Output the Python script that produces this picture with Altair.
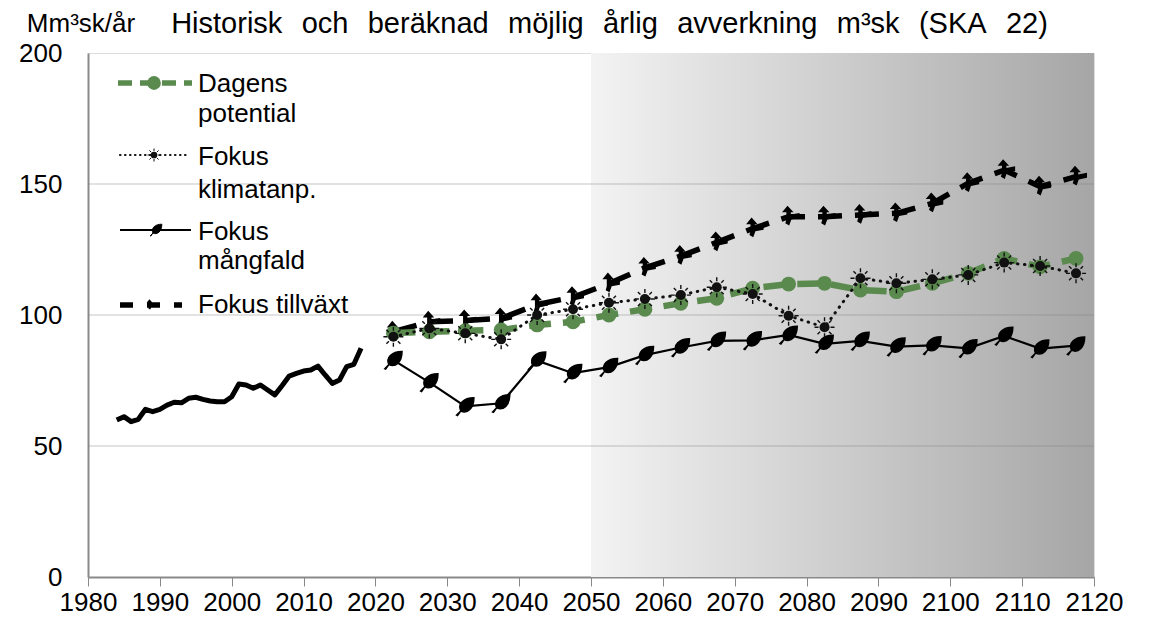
import altair as alt
import pandas as pd

# ---------------- data ----------------
hist_years = list(range(1984, 2019))
hist_vals = [59.9, 61.2, 59.3, 60.2, 64.0, 63.1, 64.0, 65.6, 66.7, 66.5,
             68.2, 68.6, 67.8, 67.2, 66.9, 66.9, 68.8, 73.7, 73.3, 72.0,
             73.3, 71.4, 69.5, 73.0, 76.7, 77.7, 78.6, 79.0, 80.5, 77.1,
             73.9, 75.2, 80.3, 81.2, 87.3]

proj_years = [2022.5, 2027.5, 2032.5, 2037.5, 2042.5, 2047.5, 2052.5, 2057.5,
              2062.5, 2067.5, 2072.5, 2077.5, 2082.5, 2087.5, 2092.5, 2097.5,
              2102.5, 2107.5, 2112.5, 2117.5]
dagens = [93.1, 93.6, 94.0, 94.3, 96.2, 97.4, 100.0, 102.2, 104.5, 106.4,
          110.2, 111.8, 112.1, 109.5, 108.9, 112.1, 115.9, 121.6, 118.4, 121.6]
klimat = [91.7, 94.9, 93.0, 90.7, 100.0, 102.2, 104.7, 106.1, 107.6, 110.6,
          108.0, 99.7, 95.3, 114.0, 112.1, 113.6, 115.3, 120.0, 118.7, 115.9]
mangfald = [82.8, 74.3, 65.1, 66.3, 82.6, 77.8, 80.1, 84.7, 87.6, 90.1,
            90.3, 92.4, 89.0, 90.1, 87.9, 88.4, 87.3, 92.0, 87.2, 88.3]
tillvaxt = [93.6, 97.4, 97.9, 98.7, 104.0, 106.8, 112.0, 118.0, 122.5, 127.7,
            133.0, 137.5, 137.5, 138.2, 138.8, 142.6, 150.3, 155.3, 149.0, 152.8]

x_ticks = list(range(1980, 2121, 10))
y_ticks = [0, 50, 100, 150, 200]
grid_vals = [50, 100, 150]
shade_start, shade_end = 2050, 2120

title_words = ["Historisk", "och", "beräknad", "möjlig", "årlig", "avverkning", "m³sk", "(SKA", "22)"]
ytitle_text = "Mm³sk/år"
legend_lines = [["Dagens", "potential"], ["Fokus", "klimatanp."], ["Fokus", "mångfald"], ["Fokus tillväxt"]]

# ---------------- style ----------------
F = "Liberation Sans"
FS = 26
GREEN = "#5a8a4e"
GRAY = "#898989"
W, H = 1006, 524

LEAF = ("M-0.95,0.95L-0.5,0.5C-0.85,-0.25 -0.2,-0.95 0.95,-0.95"
        "C0.95,0.2 0.25,0.85 -0.5,0.5L-0.85,1Z")
RAYS = ("M0,-1L0,-0.6M0,1L0,0.6M-1,0L-0.6,0M1,0L0.6,0"
        "M-0.7,-0.7L-0.45,-0.45M0.7,0.7L0.45,0.45M-0.7,0.7L-0.45,0.45M0.7,-0.7L0.45,-0.45")
TREE = ("M-0.1,-1L0.45,-0.4L0.2,-0.4L0.2,-0.2L1,-0.35L1,0.1L0.25,0.25"
        "L0.05,0.8L-0.3,0.6L-0.2,0.25L-0.2,-0.4L-0.6,-0.4Z")

hist_df = pd.DataFrame({"year": hist_years, "value": hist_vals})
dag_df = pd.DataFrame({"year": proj_years, "value": dagens})
kli_df = pd.DataFrame({"year": proj_years, "value": klimat})
man_df = pd.DataFrame({"year": proj_years, "value": mangfald})
til_df = pd.DataFrame({"year": proj_years, "value": tillvaxt})
grid_df = pd.DataFrame({"value": grid_vals})
one = pd.DataFrame({"a": [0]})

xs = alt.Scale(domain=[1980, 2120], nice=False, zero=False)
ys = alt.Scale(domain=[0, 200], nice=False)
xaxis = alt.Axis(values=x_ticks, format="d", labelFontSize=FS, labelFont=F, labelColor="#000",
                 tickColor=GRAY, tickSize=9, tickWidth=1, domainColor=GRAY, domainWidth=2,
                 grid=False, labelPadding=24, labelBaseline="alphabetic",
                 labelFlush=False, labelOverlap=False, title=None)
yaxis = alt.Axis(values=y_ticks, labelFontSize=FS, labelFont=F, labelColor="#000",
                 ticks=False, tickSize=0, domainColor=GRAY, domainWidth=2, grid=False,
                 labelPadding=26, title=None)
X = alt.X("year:Q", scale=xs, axis=xaxis)
Y = alt.Y("value:Q", scale=ys, axis=yaxis)

# gradient background
shade = alt.Chart(one).mark_rect(
    fill={"gradient": "linear",
          "stops": [{"offset": 0, "color": "#f3f3f3"}, {"offset": 1, "color": "#a6a6a6"}],
          "x1": 0, "x2": 1, "y1": 0, "y2": 0}
).encode(x=alt.datum(shade_start, scale=xs, axis=xaxis, type="quantitative"),
         x2=alt.datum(shade_end),
         y=alt.datum(0, scale=ys, axis=yaxis, type="quantitative"),
         y2=alt.datum(200))

grid = alt.Chart(grid_df).mark_rule(color="#7f7f7f", opacity=0.3, strokeWidth=1.5).encode(y=Y)

hist = alt.Chart(hist_df).mark_line(color="#000", strokeWidth=5, strokeJoin="round").encode(x=X, y=Y)

man_line = alt.Chart(man_df).mark_line(color="#000", strokeWidth=2.2).encode(x=X, y=Y)
man_pts = alt.Chart(man_df).mark_point(shape=LEAF, filled=True, color="#000", stroke="#000",
                                       strokeWidth=1.5, size=330, opacity=1).encode(x=X, y=Y)

dag_line = alt.Chart(dag_df).mark_line(color=GREEN, strokeWidth=6.5, strokeDash=[22, 12]).encode(x=X, y=Y)
dag_pts = alt.Chart(dag_df).mark_point(shape="circle", filled=True, color=GREEN, size=220, opacity=1).encode(x=X, y=Y)

kli_line = alt.Chart(kli_df).mark_line(color="#111", strokeWidth=3, strokeDash=[0.5, 6.5], strokeCap="round").encode(x=X, y=Y)
kli_pts = alt.Chart(kli_df).mark_point(shape="circle", filled=True, color="#111", size=100, opacity=1).encode(x=X, y=Y)
kli_rays = alt.Chart(kli_df).mark_point(shape=RAYS, filled=False, color="#111", size=400, strokeWidth=1.4, opacity=1).encode(x=X, y=Y)

til_line = alt.Chart(til_df).mark_line(color="#000", strokeWidth=5.5, strokeDash=[24, 13]).encode(x=X, y=Y)
til_pts = alt.Chart(til_df).mark_point(shape=TREE, filled=True, color="#000", size=480, opacity=1).encode(x=X, y=Y)

# ---------------- legend (drawn) ----------------
def txt(t, x, y, size=FS, align="left", baseline="alphabetic"):
    return alt.Chart(one).mark_text(text=t, font=F, fontSize=size, align=align, baseline=baseline,
                                    color="#000").encode(x=alt.value(x), y=alt.value(y))

leg = [
    alt.Chart(one).mark_rule(color=GREEN, strokeWidth=5.5, strokeDash=[14, 8]).encode(
        x=alt.value(30), x2=alt.value(104), y=alt.value(30)),
    alt.Chart(one).mark_point(shape="circle", filled=True, color=GREEN, size=190, opacity=1).encode(
        x=alt.value(66), y=alt.value(30)),
    txt(legend_lines[0][0], 110, 39), txt(legend_lines[0][1], 110, 69),
    alt.Chart(one).mark_rule(color="#111", strokeWidth=2.2, strokeDash=[0.5, 4.5], strokeCap="round").encode(
        x=alt.value(32), x2=alt.value(102), y=alt.value(102)),
    alt.Chart(one).mark_point(shape="circle", filled=True, color="#111", size=45, opacity=1).encode(
        x=alt.value(66), y=alt.value(102)),
    alt.Chart(one).mark_point(shape=RAYS, filled=False, color="#111", size=170, strokeWidth=1, opacity=1).encode(
        x=alt.value(66), y=alt.value(102)),
    txt(legend_lines[1][0], 110, 112), txt(legend_lines[1][1], 110, 145),
    alt.Chart(one).mark_rule(color="#000", strokeWidth=2.2).encode(
        x=alt.value(32), x2=alt.value(103), y=alt.value(177)),
    alt.Chart(one).mark_point(shape=LEAF, filled=True, color="#000", stroke="#000", strokeWidth=1,
                              size=150, opacity=1).encode(x=alt.value(68), y=alt.value(177)),
    txt(legend_lines[2][0], 110, 187), txt(legend_lines[2][1], 110, 216),
    alt.Chart(one).mark_rule(color="#000", strokeWidth=5.5, strokeDash=[13, 14]).encode(
        x=alt.value(32), x2=alt.value(94), y=alt.value(252)),
    alt.Chart(one).mark_point(shape=TREE, filled=True, color="#000", size=130, opacity=1).encode(
        x=alt.value(62), y=alt.value(252)),
    txt(legend_lines[3][0], 110, 260),
]

title_text = "\u2002\u2006".join(title_words)
title = txt(title_text, 521.5, -20, size=29, align="center")
ytitle = txt(ytitle_text, -7, -21, size=FS, align="center")

chart = alt.layer(
    shade, grid, hist, man_line, man_pts, til_line, til_pts, dag_line, dag_pts,
    kli_line, kli_rays, kli_pts, *leg, title, ytitle
).properties(
    width=W, height=H,
    autosize=alt.AutoSizeParams(type="none"),
    padding={"left": 80, "top": 45, "right": 50, "bottom": 35},
).configure_view(stroke=GRAY, strokeWidth=2).configure(background="white")

chart.save("out.html", embed_options={"renderer": "svg", "actions": False})
